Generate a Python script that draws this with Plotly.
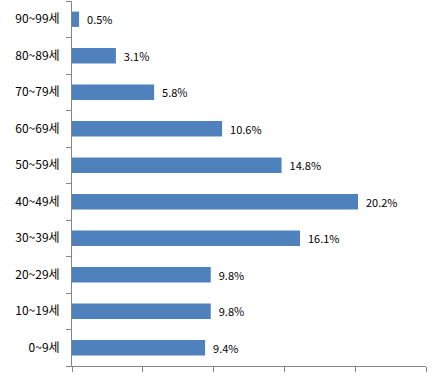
import plotly.graph_objects as go

categories = ["0~9세", "10~19세", "20~29세", "30~39세", "40~49세",
              "50~59세", "60~69세", "70~79세", "80~89세", "90~99세"]
values = [9.4, 9.8, 9.8, 16.1, 20.2, 14.8, 10.6, 5.8, 3.1, 0.5]
value_labels = ["9.4%", "9.8%", "9.8%", "16.1%", "20.2%", "14.8%", "10.6%", "5.8%", "3.1%", "0.5%"]

axis_color = "#868686"
font_family = "Noto Sans CJK KR, Noto Sans, sans-serif"

fig = go.Figure(go.Bar(
    y=categories,
    x=values,
    orientation="h",
    marker=dict(color="#4F81BD", line=dict(width=0)),
    width=0.42,
    text=["\u00a0\u00a0" + t for t in value_labels],
    textposition="outside",
    textfont=dict(family=font_family, size=11.5, color="#000000"),
    cliponaxis=False,
))

fig.update_layout(
    width=448, height=376,
    margin=dict(l=72, r=22, t=1, b=10, autoexpand=False),
    plot_bgcolor="white", paper_bgcolor="white",
    showlegend=False,
    font=dict(family=font_family, size=12, color="#000000"),
    xaxis=dict(
        range=[0, 25], dtick=5, showgrid=False, zeroline=False,
        showline=True, linecolor=axis_color, linewidth=1,
        ticks="outside", ticklen=5, tickcolor=axis_color,
        showticklabels=False, automargin=False,
    ),
    yaxis=dict(
        showgrid=False, zeroline=False,
        showline=True, linecolor=axis_color, linewidth=1,
        ticks="outside", ticklen=5, tickcolor=axis_color,
        tickson="boundaries", ticklabelstandoff=9,
        range=[-0.5, 9.5], automargin=False,
    ),
)

fig.write_html("out.html", config={"displayModeBar": False},
               post_script="document.body.style.margin='0';")
